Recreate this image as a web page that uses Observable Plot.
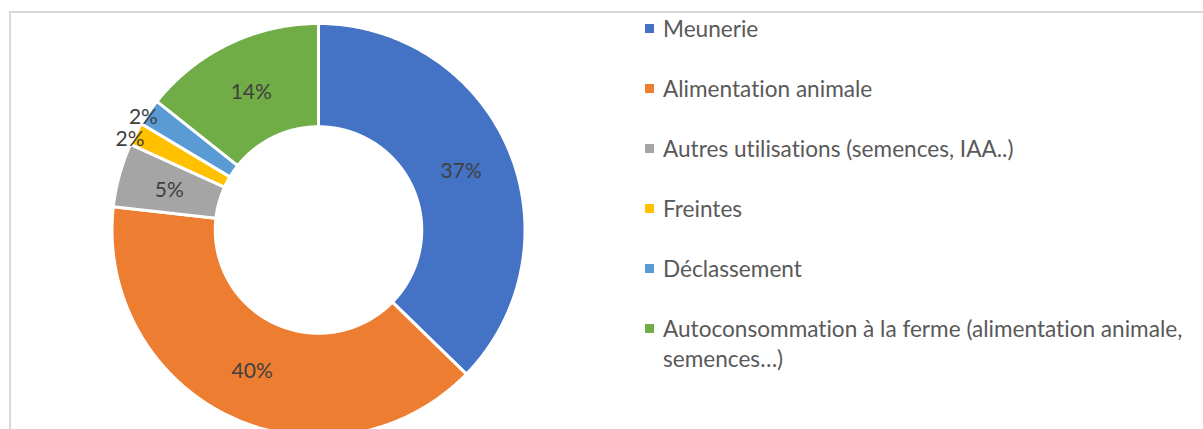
<!DOCTYPE html>
<html>
<head>
<meta charset="utf-8">
<script src="https://cdn.jsdelivr.net/npm/d3@7"></script>
<script src="https://cdn.jsdelivr.net/npm/@observablehq/plot@0.6"></script>
<style>
  body { margin: 0; background: #fff; font-family: Lato, "Open Sans", sans-serif; font-variant-ligatures: none; }
  #wrap { position: relative; width: 1203px; height: 429px; overflow: hidden; background: #fff; }
  #frame { position: absolute; left: 9px; top: 11px; width: 1200px; height: 500px;
           border-left: 2px solid #d9d9d9; border-top: 2px solid #d9d9d9; }
  #chart { position: absolute; left: 0; top: 0; }
  #legend { position: absolute; left: 645px; top: 0; width: 556px; height: 429px; }
  .item { position: absolute; left: 0; width: 556px; }
  .sw { position: absolute; left: 0; width: 9px; height: 9px; }
  .lt { position: absolute; left: 18px; width: 536px; color: #595959; font-size: 22.6px; line-height: 30px;
        font-variant-ligatures: none; font-feature-settings: "liga" 0, "clig" 0; }
</style>
</head>
<body>
<div id="wrap">
  <div id="chart"></div>
  <div id="frame"></div>
  <div id="legend"></div>
</div>
<script>
// ---- Data ----
const categories = [
  "Meunerie",
  "Alimentation animale",
  "Autres utilisations (semences, IAA..)",
  "Freintes",
  "Déclassement",
  "Autoconsommation à la ferme (alimentation animale, semences…)"
];
const values = [37.3, 39.5, 5.0, 1.8, 2.1, 14.3];
const labels = ["37%", "40%", "5%", "2%", "2%", "14%"];
const colors = ["#4472C4", "#ED7D31", "#A5A5A5", "#FFC000", "#5B9BD5", "#70AD47"];

// ---- Geometry derived from the values ----
const INNER = 0.5;
const arcs = d3.pie().sort(null).value(d => d.value)(
  categories.map((c, i) => ({cat: c, value: values[i], label: labels[i]}))
);
const polys = [];
for (const a of arcs) {
  const n = Math.max(2, Math.ceil((a.endAngle - a.startAngle) / (Math.PI / 360)));
  const outer = d3.range(n + 1).map(k => a.startAngle + (a.endAngle - a.startAngle) * k / n);
  for (const t of outer) polys.push({cat: a.data.cat, x: Math.sin(t), y: Math.cos(t)});
  for (const t of outer.slice().reverse()) polys.push({cat: a.data.cat, x: INNER * Math.sin(t), y: INNER * Math.cos(t)});
}
const labelPts = arcs.map(a => {
  const m = (a.startAngle + a.endAngle) / 2;
  const outside = a.data.value < 3;
  const r = outside ? 1.02 : (1 + INNER) / 2;
  return {label: a.data.label, outside, x: r * Math.sin(m), y: r * Math.cos(m)};
});

const R = 206.5, CX = 318, CY = 229.5;
const plot = Plot.plot({
  width: 1203,
  height: 429,
  margin: 0,
  style: {background: "transparent"},
  x: {domain: [-1, 1], range: [CX - R, CX + R], axis: null},
  y: {domain: [-1, 1], range: [CY + R, CY - R], axis: null},
  color: {type: "ordinal", domain: categories, range: colors},
  marks: [
    Plot.line(polys, {x: "x", y: "y", z: "cat", fill: "cat", stroke: "white", strokeWidth: 3, curve: "linear-closed"}),
    Plot.text(labelPts.filter(d => !d.outside), {x: "x", y: "y", text: "label", fill: "#404040", fontSize: 21, fontFamily: "Lato, sans-serif", textAnchor: "middle", lineAnchor: "middle", dy: 1.5}),
    Plot.text(labelPts.filter(d => d.outside), {x: "x", y: "y", text: "label", fill: "#404040", fontSize: 21, fontFamily: "Lato, sans-serif", textAnchor: "middle", lineAnchor: "middle", dy: 7, dx: -2})
  ]
});
document.getElementById("chart").appendChild(plot);

// ---- Legend ----
const legend = d3.select("#legend");
categories.forEach((c, i) => {
  const cy = 28.7 + i * 60;
  const item = legend.append("div").attr("class", "item").style("top", (cy - 15) + "px");
  item.append("div").attr("class", "sw").style("top", "10.5px").style("background", colors[i]);
  item.append("div").attr("class", "lt").text(c);
});
</script>
</body>
</html>
